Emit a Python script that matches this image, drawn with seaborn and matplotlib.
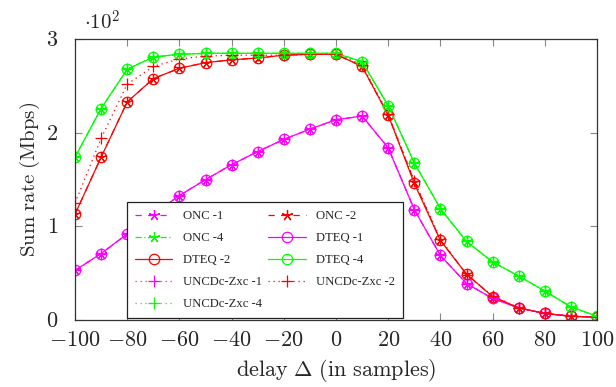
import numpy as np
import pandas as pd
import seaborn as sns
import matplotlib
matplotlib.use("Agg")
import matplotlib.pyplot as plt
from matplotlib.ticker import FuncFormatter

# ---- data (Sum rate in Mbps) ----
delay = list(range(-100, 101, 10))

onc_1 = [53, 71, 92, 113, 133, 150, 166, 180, 193, 204, 214, 218, 184, 118, 69, 39, 23, 13, 7, 4, 3]
onc_2 = [113, 174, 233, 258, 269, 275, 278, 280, 283, 284, 284, 271, 219, 148, 85, 49, 25, 13, 7, 4, 3]
onc_4 = [174, 226, 268, 281, 284, 285, 285, 285, 285, 285, 285, 276, 229, 168, 119, 84, 62, 47, 31, 14, 4]

dteq_1 = [53, 71, 92, 113, 133, 150, 166, 180, 193, 204, 214, 218, 184, 118, 69, 39, 23, 13, 7, 4, 3]
dteq_2 = [113, 174, 233, 258, 269, 275, 278, 280, 283, 284, 284, 271, 219, 146, 85, 49, 25, 13, 7, 4, 3]
dteq_4 = [174, 226, 268, 281, 284, 285, 285, 285, 285, 285, 285, 276, 229, 168, 119, 84, 62, 47, 31, 14, 4]

unc_1 = [53, 71, 92, 113, 133, 150, 166, 180, 193, 204, 214, 218, 184, 118, 69, 39, 23, 13, 7, 4, 3]
unc_2 = [125, 194, 252, 271, 279, 282, 283, 283, 283, 284, 284, 273, 220, 149, 87, 48, 26, 13, 7, 4, 3]
unc_4 = [174, 226, 268, 281, 284, 285, 285, 285, 285, 285, 285, 276, 229, 168, 119, 84, 62, 47, 31, 14, 4]

x_ticks = [-100, -80, -60, -40, -20, 0, 20, 40, 60, 80, 100]
y_ticks = [0, 1, 2, 3]

series = [
    ("ONC -1", onc_1, "#ff00ff", (0, (5, 5)), (5, 2, 0)),
    ("ONC -2", onc_2, "#ff0000", (0, (5, 5)), (5, 2, 0)),
    ("ONC -4", onc_4, "#00ff00", (0, (5, 2, 1, 2)), (5, 2, 0)),
    ("DTEQ -1", dteq_1, "#ff00ff", "-", "o"),
    ("DTEQ -2", dteq_2, "#ff0000", "-", "o"),
    ("DTEQ -4", dteq_4, "#00ff00", "-", "o"),
    ("UNCDc-Zxc -1", unc_1, "#ff00ff", (0, (1, 3)), "+"),
    ("UNCDc-Zxc -2", unc_2, "#ff0000", (0, (1, 3)), "+"),
    ("UNCDc-Zxc -4", unc_4, "#00ff00", (0, (1, 3)), "+"),
]

sns.set_theme(style="white")
plt.rcParams["mathtext.fontset"] = "cm"
plt.rcParams["font.family"] = ["Liberation Serif", "DejaVu Serif"]

fig = plt.figure(figsize=(6.16, 3.87), dpi=100)
ax = fig.add_axes([75 / 616, 1 - 320 / 387, 522 / 616, 280.7 / 387])

handles = {}
for name, vals, col, ls, mk in series:
    df = pd.DataFrame({"delay": delay, "rate": np.array(vals) / 100.0})
    sns.lineplot(data=df, x="delay", y="rate", ax=ax, color=col, linestyle=ls,
                 marker=mk, markersize=7.5 if mk == "o" else 8,
                 markerfacecolor="none", markeredgecolor=col, markeredgewidth=0.9,
                 linewidth=0.9, label=name, legend=False)
    handles[name] = ax.lines[-1]

ax.set_xlim(-100, 100)
ax.set_ylim(0, 3)
ax.set_xticks(x_ticks)
ax.set_yticks(y_ticks)
fmt = FuncFormatter(lambda v, p: r"$%d$" % v if v >= 0 else r"$-%d$" % (-v))
ax.xaxis.set_major_formatter(fmt)
ax.yaxis.set_major_formatter(FuncFormatter(lambda v, p: r"$%d$" % v))
ax.tick_params(axis="both", which="major", direction="in", length=5, width=0.8,
               color="#888888", labelsize=16, top=True, right=True,
               bottom=True, left=True)
ax.tick_params(axis="x", pad=9)
ax.tick_params(axis="y", pad=12)
for s in ax.spines.values():
    s.set_color("#333333")
    s.set_linewidth(0.9)

ax.set_xlabel(r"$\mathrm{delay}\ \Delta\ \mathrm{(in\ samples)}$", fontsize=16, labelpad=4)
ax.set_ylabel(r"$\mathrm{Sum\ rate\ (Mbps)}$", fontsize=15, labelpad=3)
ax.text(0.018, 1.015, r"$\cdot 10^2$", transform=ax.transAxes, fontsize=15,
        ha="left", va="bottom")

order = ["ONC -1", "ONC -4", "DTEQ -2", "UNCDc-Zxc -1", "UNCDc-Zxc -4",
         "ONC -2", "DTEQ -1", "DTEQ -4", "UNCDc-Zxc -2"]
leg = ax.legend([handles[n] for n in order], order, ncol=2,
                loc="lower left", bbox_to_anchor=(0.0996, 0.007, 0.528, 0.431),
                mode="expand", fontsize=9.1, frameon=True, fancybox=False,
                framealpha=1, edgecolor="#222222", handlelength=3.0,
                handletextpad=0.8, labelspacing=0.8, borderpad=0.6,
                columnspacing=1.0, borderaxespad=0)
leg.get_frame().set_linewidth(0.9)

fig.savefig("out.png", dpi=100)
